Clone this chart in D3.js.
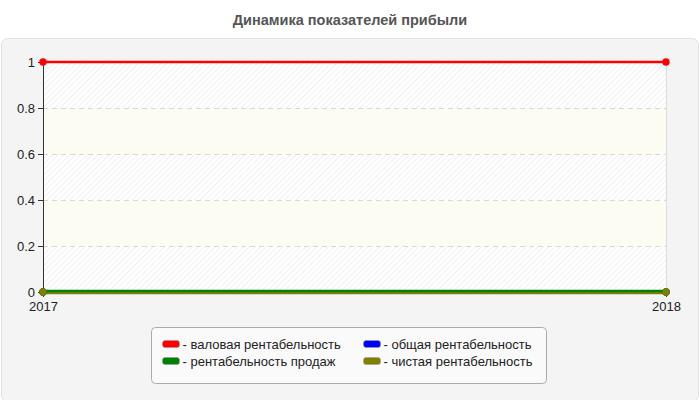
<!DOCTYPE html>
<html>
<head>
<meta charset="utf-8">
<script src="https://cdn.jsdelivr.net/npm/d3@7"></script>
<style>
  body { margin: 0; background: #fff; font-family: "Liberation Sans", Arial, sans-serif; }
  .axis text { font-size: 13px; fill: #222; }
  .axis path, .axis line { stroke: #333; }
</style>
</head>
<body>
<script>
var years = ["2017", "2018"];
var seriesNames = ["валовая рентабельность", "общая рентабельность", "рентабельность продаж", "чистая рентабельность"];
var seriesColors = ["#ff0000", "#0000ff", "#008000", "#808000"];
var grossMargin = [1, 1];
var totalMargin = [0, 0];
var salesMargin = [0, 0];
var netMargin = [0, 0];
var yTicks = [0, 0.2, 0.4, 0.6, 0.8, 1];

var seriesValues = [grossMargin, totalMargin, salesMargin, netMargin];

var W = 700, H = 400;
var margin = {top: 62, right: 34, bottom: 108, left: 43},
    width = W - margin.left - margin.right,
    height = H - margin.top - margin.bottom;

var svg = d3.select("body").append("svg")
    .attr("width", W)
    .attr("height", H);

var defs = svg.append("defs");
var hatch = defs.append("pattern")
    .attr("id", "hatch")
    .attr("patternUnits", "userSpaceOnUse")
    .attr("width", 4).attr("height", 4)
    .attr("patternTransform", "rotate(45)");
hatch.append("rect").attr("width", 4).attr("height", 4).attr("fill", "#ffffff");
hatch.append("line").attr("x1", 0).attr("y1", 0).attr("x2", 0).attr("y2", 4)
    .attr("stroke", "#ececec").attr("stroke-width", 1.5);

// panel
svg.append("rect")
    .attr("x", 1.5).attr("y", 38.5)
    .attr("width", W - 3).attr("height", H - 37)
    .attr("rx", 6)
    .attr("fill", "#f4f4f4")
    .attr("stroke", "#e2e2e2");

svg.append("text")
    .attr("x", W / 2).attr("y", 25)
    .attr("text-anchor", "middle")
    .style("font-size", "14.5px")
    .style("font-weight", "bold")
    .style("fill", "#555")
    .text("Динамика показателей прибыли");

var g = svg.append("g")
    .attr("transform", "translate(" + margin.left + "," + margin.top + ")");

var x = d3.scalePoint().domain(years).range([0, width]);
var y = d3.scaleLinear().domain([0, 1]).range([height, 0]);

// alternating bands
var bands = d3.pairs(yTicks);
g.selectAll(".band")
    .data(bands)
  .enter().append("rect")
    .attr("class", "band")
    .attr("x", 0)
    .attr("width", width)
    .attr("y", function(d) { return y(d[1]); })
    .attr("height", function(d) { return y(d[0]) - y(d[1]); })
    .attr("fill", function(d, i) { return i % 2 === 0 ? "url(#hatch)" : "#fcfcf3"; });

// right border
g.append("line")
    .attr("x1", width + 0.5).attr("x2", width + 0.5)
    .attr("y1", 0).attr("y2", height)
    .attr("stroke", "#dcdcdc");

// grid
g.selectAll(".grid")
    .data(yTicks.slice(1, -1))
  .enter().append("line")
    .attr("class", "grid")
    .attr("x1", 0).attr("x2", width)
    .attr("y1", function(d) { return Math.round(y(d)) + 0.5; })
    .attr("y2", function(d) { return Math.round(y(d)) + 0.5; })
    .attr("stroke", "#d8d8d8")
    .attr("stroke-dasharray", "5,4");

g.append("g")
    .attr("class", "axis")
    .call(d3.axisLeft(y).tickValues(yTicks).tickSize(5).tickPadding(3).tickFormat(d3.format("")))
    .call(function(a) { a.select(".domain").attr("d", "M0.5,0V" + height); });

g.append("g")
    .attr("class", "axis")
    .attr("transform", "translate(0," + height + ")")
    .call(d3.axisBottom(x).tickSize(5).tickPadding(5))
    .call(function(a) { a.select(".domain").remove(); });

var line = d3.line()
    .x(function(d, i) { return x(years[i]); })
    .y(function(d) { return y(d); });

var order = [0, 1, 3, 2];
var offsets = [0, 0, -1, 1];

order.forEach(function(k) {
  var s = g.append("g").attr("transform", "translate(0," + offsets[k] + ")");
  s.append("path")
      .datum(seriesValues[k])
      .attr("d", line)
      .attr("fill", "none")
      .attr("stroke", seriesColors[k])
      .attr("stroke-width", 2.5);
});

// markers
[0, 1, 2, 3].forEach(function(k) {
  g.selectAll(".m" + k)
      .data(seriesValues[k])
    .enter().append("circle")
      .attr("cx", function(d, i) { return x(years[i]); })
      .attr("cy", function(d) { return y(d); })
      .attr("r", 3.7)
      .attr("fill", seriesColors[k]);
});

// legend
var legend = svg.append("g").attr("transform", "translate(151.5,327.5)");
legend.append("rect")
    .attr("width", 395).attr("height", 56)
    .attr("rx", 4)
    .attr("fill", "#fafafa")
    .attr("stroke", "#aaa");

var item = legend.selectAll(".item")
    .data(seriesNames)
  .enter().append("g")
    .attr("class", "item")
    .attr("transform", function(d, i) {
      return "translate(" + (11 + (i % 2) * 201) + "," + (13 + Math.floor(i / 2) * 17) + ")";
    });

item.append("rect")
    .attr("width", 17).attr("height", 7)
    .attr("rx", 2.5)
    .attr("fill", function(d, i) { return seriesColors[i]; })
    .attr("stroke", "#999")
    .attr("stroke-width", 0.5);

item.append("text")
    .attr("x", 20)
    .attr("y", 8)
    .style("font-size", "13px")
    .style("fill", "#222")
    .text(function(d) { return "- " + d; });
</script>
</body>
</html>
